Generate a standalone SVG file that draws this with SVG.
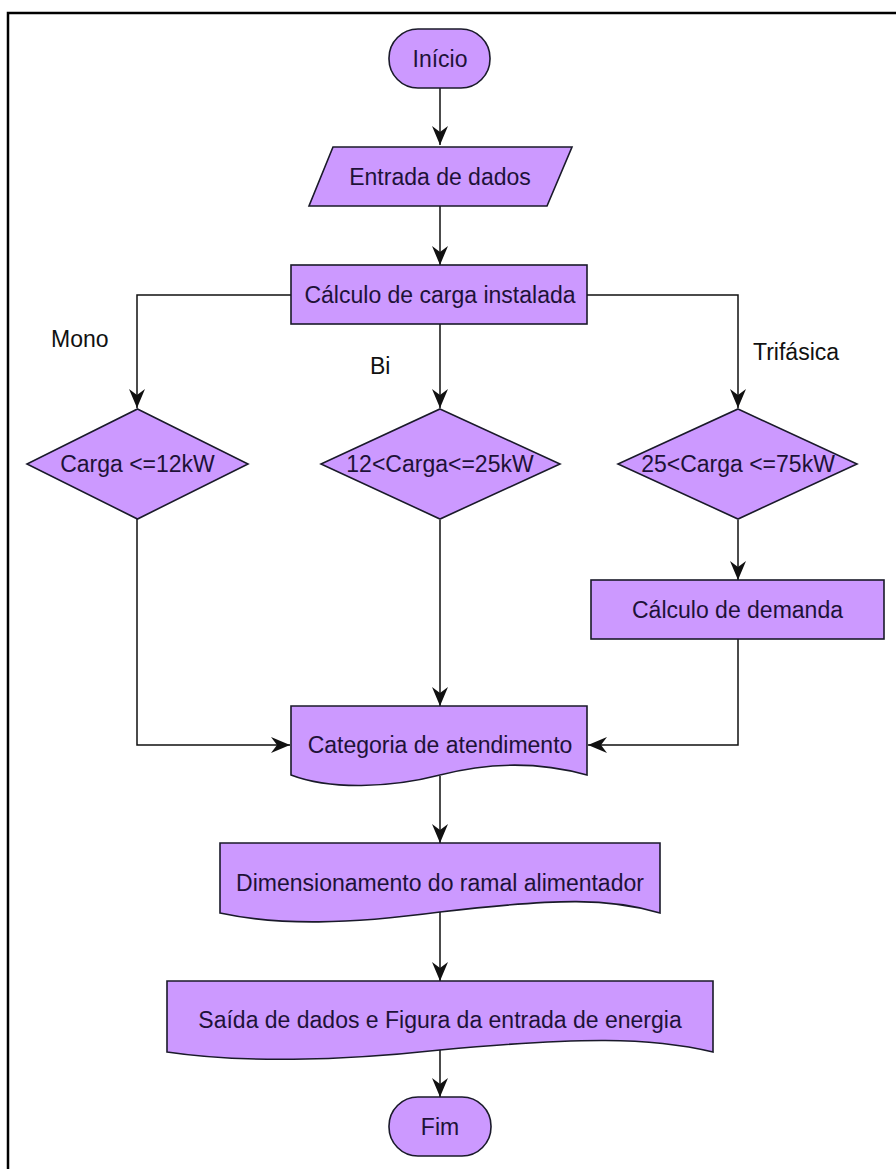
<svg xmlns="http://www.w3.org/2000/svg" width="896" height="1169" viewBox="0 0 896 1169">
<defs>
<style>
.shape{fill:#CC99FF;stroke:#1a1a2a;stroke-width:1.6}
.t{font-family:"Liberation Sans",Arial,sans-serif;font-size:23px;fill:#1e1238;text-anchor:middle}
.lbl{font-family:"Liberation Sans",Arial,sans-serif;font-size:23px;fill:#111;text-anchor:start}
.edge{fill:none;stroke:#111;stroke-width:1.5}
</style>
<marker id="arr" markerUnits="userSpaceOnUse" viewBox="-20 -9 21 18" refX="0" refY="0" markerWidth="21" markerHeight="18" orient="auto">
<path d="M0,0 L-19,-8 L-13,0 L-19,8 Z" fill="#111"/>
</marker>
</defs>
<rect x="0" y="0" width="896" height="1169" fill="#fff"/>
<path d="M8,1169 V13 H896" fill="none" stroke="#000" stroke-width="2.5"/>

<g id="connectors">
<path class="edge" d="M440,88 V145" marker-end="url(#arr)"/>
<path class="edge" d="M440,206 V265" marker-end="url(#arr)"/>
<path class="edge" d="M291,295 H137 V408" marker-end="url(#arr)"/>
<path class="edge" d="M440,324 V408" marker-end="url(#arr)"/>
<path class="edge" d="M587,295 H738 V408" marker-end="url(#arr)"/>
<path class="edge" d="M738,520 V580" marker-end="url(#arr)"/>
<path class="edge" d="M137,519 V745 H290" marker-end="url(#arr)"/>
<path class="edge" d="M440,520 V706" marker-end="url(#arr)"/>
<path class="edge" d="M738,639 V745 H588" marker-end="url(#arr)"/>
<path class="edge" d="M440,776 V843" marker-end="url(#arr)"/>
<path class="edge" d="M440,912 V981" marker-end="url(#arr)"/>
<path class="edge" d="M440,1049 V1097" marker-end="url(#arr)"/>
<text class="lbl" x="51" y="347">Mono</text>
<text class="lbl" x="370" y="374">Bi</text>
<text class="lbl" x="753" y="360">Trifásica</text>
</g>

<g id="inicio">
<rect class="shape" x="389" y="29" width="101" height="59" rx="29" ry="29"/>
<text class="t" x="440" y="67">Início</text>
</g>

<g id="entrada">
<polygon class="shape" points="333,147 572,147 547,206 309,206"/>
<text class="t" x="440" y="185">Entrada de dados</text>
</g>

<g id="calculo-carga">
<rect class="shape" x="291" y="265" width="296" height="59"/>
<text class="t" x="440" y="303">Cálculo de carga instalada</text>
</g>

<g id="mono">
<polygon class="shape" points="137.5,409 248,464 137.5,519 27,464"/>
<text class="t" x="137.5" y="472">Carga &lt;=12kW</text>
</g>

<g id="bi">
<polygon class="shape" points="440,409 560,464 440,519 321,464"/>
<text class="t" x="440" y="472">12&lt;Carga&lt;=25kW</text>
</g>

<g id="tri">
<polygon class="shape" points="738,409 857,464 738,519 618,464"/>
<text class="t" x="738" y="472">25&lt;Carga &lt;=75kW</text>
</g>

<g id="demanda">
<rect class="shape" x="591" y="580" width="293" height="59"/>
<text class="t" x="737.5" y="618">Cálculo de demanda</text>
</g>

<g id="categoria">
<path class="shape" d="M291,706 H587 V775 C540,762 490,762 440,775 C390,788 330,790 291,775 Z"/>
<text class="t" x="440" y="753">Categoria de atendimento</text>
</g>

<g id="dimensionamento">
<path class="shape" d="M220,843 H660 V913 C610,898 560,898 440,912 C350,924 280,926 220,913 Z"/>
<text class="t" x="440" y="891">Dimensionamento do ramal alimentador</text>
</g>

<g id="saida">
<path class="shape" d="M167,981 H713 V1052 C650,1037 580,1037 440,1050 C340,1061 240,1063 167,1052 Z"/>
<text class="t" x="440" y="1028">Saída de dados e Figura da entrada de energia</text>
</g>

<g id="fim">
<rect class="shape" x="389" y="1097" width="102" height="59" rx="29" ry="29"/>
<text class="t" x="440" y="1135">Fim</text>
</g>
</svg>
